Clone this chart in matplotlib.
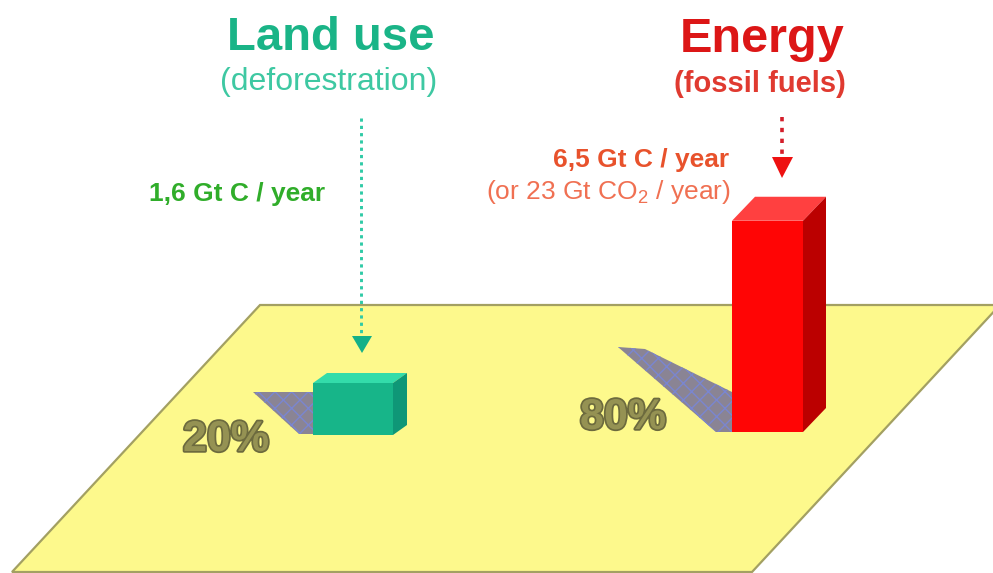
import matplotlib
matplotlib.use("Agg")
import matplotlib.pyplot as plt
from matplotlib.patches import Polygon
import matplotlib.patheffects as pe

# Emission sources (Gt C per year) and their shares
sources = ["Land use", "Energy"]
subtitles = ["(deforestration)", "(fossil fuels)"]
emissions = [1.6, 6.5]
shares = ["20%", "80%"]
value_labels = ["1,6 Gt C / year", "6,5 Gt C / year"]
co2_label = "(or 23 Gt CO$_\\mathregular{2}$ / year)"

W, H = 993, 573
plt.rcParams["font.family"] = ["Liberation Sans", "DejaVu Sans"]
plt.rcParams["mathtext.fontset"] = "custom"
plt.rcParams["mathtext.rm"] = "Liberation Sans"

fig = plt.figure(figsize=(W / 100, H / 100), dpi=100)
ax = fig.add_axes([0, 0, 1, 1])
ax.set_xlim(0, W)
ax.set_ylim(0, H)
ax.axis("off")


def Y(y):
    # convert a top-down position to the upward axis
    return H - y


# ground plane
plane = Polygon([(260, Y(305)), (1000, Y(305)), (752, Y(572)), (12, Y(572))],
                closed=True, facecolor="#fdf98c", edgecolor="#a3a062",
                linewidth=1.6, zorder=1)
ax.add_patch(plane)

# bar geometry
px_per_gt = 32.5
bars = [
    dict(x0=313, x1=393, base=Y(435), dx=14, dy=10,
         front="#17b589", top="#33dcaa", side="#0f9777"),
    dict(x0=732, x1=803, base=Y(432), dx=23, dy=24,
         front="#ff0505", top="#ff4040", side="#bb0000"),
]

# shadows on the ground
shadows = [
    [(253, Y(392)), (313, Y(392)), (313, Y(434)), (299, Y(434))],
    [(618, Y(347)), (645, Y(349)), (732, Y(392)), (732, Y(432)), (716, Y(432))],
]
for pts in shadows:
    ax.add_patch(Polygon(pts, closed=True, facecolor="#8a8494",
                         edgecolor="none", zorder=2))
    ax.add_patch(Polygon(pts, closed=True, facecolor="none",
                         edgecolor="#7a86d0", hatch="xx", linewidth=0, zorder=2.1))

for b, val in zip(bars, emissions):
    h = val * px_per_gt
    x0, x1, base, dx, dy = b["x0"], b["x1"], b["base"], b["dx"], b["dy"]
    top = base + h
    ax.bar(x0, h, width=x1 - x0, bottom=base, align="edge",
           color=b["front"], edgecolor="none", zorder=4)
    ax.add_patch(Polygon([(x0, top), (x1, top), (x1 + dx, top + dy), (x0 + dx, top + dy)],
                         closed=True, facecolor=b["top"], edgecolor="none", zorder=4))
    ax.add_patch(Polygon([(x1, base), (x1 + dx, base + dy), (x1 + dx, top + dy), (x1, top)],
                         closed=True, facecolor=b["side"], edgecolor="none", zorder=4))

# dotted pointers with arrowheads
ax.plot([361, 361], [Y(118), Y(334)], linestyle=(0, (1.1, 1.4)), color="#2fcaa6",
        linewidth=2.1, zorder=3)
ax.add_patch(Polygon([(352, Y(336)), (372, Y(336)), (362, Y(353))], closed=True,
                     facecolor="#14b088", edgecolor="none", zorder=5))
ax.plot([782, 782], [Y(117), Y(154)], linestyle=(0, (1.2, 1.8)), color="#d41e2a",
        linewidth=2.6, zorder=3)
ax.add_patch(Polygon([(772, Y(157)), (793, Y(157)), (782, Y(178))], closed=True,
                     facecolor="#ee1111", edgecolor="none", zorder=5))

# headings
ax.text(331, Y(38), sources[0], ha="center", va="center", fontsize=34,
        fontweight="bold", color="#1ab487", zorder=6)
ax.text(329, Y(82), subtitles[0], ha="center", va="center", fontsize=23,
        color="#3ec8a2", zorder=6)
ax.text(762, Y(40), sources[1], ha="center", va="center", fontsize=35,
        fontweight="bold", color="#dc1616", zorder=6)
ax.text(760, Y(84), subtitles[1], ha="center", va="center", fontsize=21,
        fontweight="bold", color="#e03a30", zorder=6)

# value labels
ax.text(237, Y(194), value_labels[0], ha="center", va="center", fontsize=19,
        fontweight="bold", color="#30ad2a", zorder=6)
ax.text(729, Y(160), value_labels[1], ha="right", va="center", fontsize=19,
        fontweight="bold", color="#e8522c", zorder=6)
ax.text(731, Y(192), co2_label, ha="right", va="center", fontsize=19,
        color="#f07052", zorder=6)

# share labels
share_pos = [(226, Y(440)), (623, Y(418))]
for (x, y), s in zip(share_pos, shares):
    ax.text(x, y, s, ha="center", va="center", fontsize=31, fontweight="bold",
            family=["Liberation Sans", "DejaVu Sans"],
            color="#959253", zorder=6,
            path_effects=[pe.withStroke(linewidth=2.5, foreground="#6c6a3e")])

fig.savefig("out.png", dpi=100)
